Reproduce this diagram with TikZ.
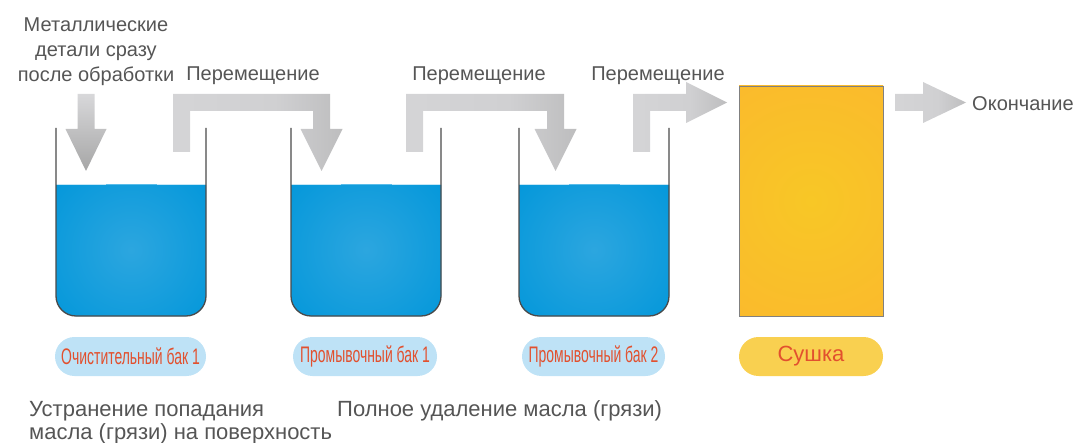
\documentclass[tikz,border=0pt]{standalone}
\usepackage{fontspec}
\setmainfont{Liberation Sans}
\newfontfamily\narrowfont[FakeStretch=0.62]{Liberation Sans}

\definecolor{txtgray}{HTML}{555555}
\definecolor{waterblue}{HTML}{0096DA}
\definecolor{waterglow}{HTML}{2CA6DF}
\definecolor{hilite}{HTML}{5ABCE9}
\definecolor{wallgray}{HTML}{4A4A4A}
\definecolor{pillblue}{HTML}{BEE2F6}
\definecolor{pillred}{HTML}{E2502E}
\definecolor{dryer}{HTML}{FBB52F}
\definecolor{dryerglow}{HTML}{F8C726}
\definecolor{dryerpill}{HTML}{F9D050}
\definecolor{arrowlight}{HTML}{D8D8DA}
\definecolor{arrowmid}{HTML}{D0D0D2}
\definecolor{arrowdark}{HTML}{A6A6A6}

% light grey for most of the bar, darkening towards the head
\pgfdeclarehorizontalshading{arrowgrad}{100bp}{color(0bp)=(arrowlight); color(55bp)=(arrowmid); color(100bp)=(arrowdark)}

\tikzset{
  label20/.style={inner sep=0pt, anchor=base, text=txtgray, font=\fontsize{20}{25}\selectfont},
  label22/.style={inner sep=0pt, anchor=base west, text=txtgray, font=\fontsize{22}{23}\selectfont},
  pill/.style={rounded corners=19.5pt, minimum width=#1, minimum height=39pt, inner sep=0pt},
  tankpill/.style={pill=#1, fill=pillblue, text=pillred, font=\narrowfont\fontsize{22.5}{22}\selectfont},
  hshade/.style={shading=arrowgrad},
  vshade/.style={top color=arrowlight, bottom color=arrowdark},
  tank/.pic={
    % water with a soft lighter centre
    \begin{scope}
      \clip (0,57) -- (0,168) arc (180:270:20pt) -- (130,188) arc (270:360:20pt) -- (150,57) -- cycle;
      \fill[waterblue] (-1,50) rectangle (151,190);
      \shade[inner color=waterglow, outer color=waterblue] (75,122) circle (112pt);
    \end{scope}
    \draw[hilite, line width=1pt] (50,56.5) -- (101,56.5);
    % vessel walls
    \draw[wallgray, line width=1.3pt] (0,0) -- (0,168) arc (180:270:20pt) -- (130,188) arc (270:360:20pt) -- (150,0);
  }
}

\begin{document}
\begin{tikzpicture}[x=1pt, y=-1pt]
\useasboundingbox (0,0) rectangle (1075,443);

% three tanks
\pic at (56,128) {tank};
\pic at (291,128) {tank};
\pic at (519,128) {tank};

% drying chamber
\begin{scope}
  \clip (739,86) rectangle (883,316);
  \fill[dryer] (739,86) rectangle (883,316);
  \shade[inner color=dryerglow, outer color=dryer] (811,201) circle (196pt);
\end{scope}
\draw[gray, line width=0.8pt] (739,86) rectangle (883,316);

% feed arrow into the first tank
\shade[vshade] (77.5,94) -- (94.5,94) -- (94.5,129) -- (106.5,129) -- (86,171)
  -- (65.5,129) -- (77.5,129) -- cycle;

% transfer arrows between tanks
\shade[hshade] (173,152) -- (173,94) -- (330,94) -- (330,129) -- (342.5,129)
  -- (321.5,171) -- (300.5,129) -- (313,129) -- (313,111) -- (190,111) -- (190,152) -- cycle;
\shade[hshade] (406,152) -- (406,94) -- (564,94) -- (564,129) -- (576.5,129)
  -- (555.5,171) -- (534.5,129) -- (547,129) -- (547,111) -- (423,111) -- (423,152) -- cycle;
\shade[hshade] (633,152) -- (633,94) -- (686,94) -- (686,82) -- (727,102.5)
  -- (686,123) -- (686,111) -- (650,111) -- (650,152) -- cycle;

% exit arrow
\shade[hshade] (895,94) -- (923,94) -- (923,82) -- (966,102.5) -- (923,123)
  -- (923,111) -- (895,111) -- cycle;

% labels
\node[label20] (in1) at (96,32) {Металлические};
\node[label20] (in2) at (96,57) {детали сразу};
\node[label20] (in3) at (96,82) {после обработки};
\node[label20] (mv1) at (253,81) {Перемещение};
\node[label20] (mv2) at (479,81) {Перемещение};
\node[label20] (mv3) at (658,81) {Перемещение};
\node[label20, anchor=base west] (end) at (972,111) {Окончание};

% stage captions
\node[tankpill=151pt] (p1) at (130.5,356.5) {Очистительный бак 1};
\node[tankpill=144pt] (p2) at (365,356.5) {Промывочный бак 1};
\node[tankpill=143pt] (p3) at (593.5,356.5) {Промывочный бак 2};
\node[pill=144pt, fill=dryerpill, text=pillred, font=\fontsize{22}{22}\selectfont] (p4) at (811,356.5) {Сушка};

% notes under the tanks
\node[label22] (n1) at (29,416) {Устранение попадания};
\node[label22] (n2) at (29,439) {масла (грязи) на поверхность};
\node[label22] (n3) at (337,416) {Полное удаление масла (грязи)};
\end{tikzpicture}
\end{document}
